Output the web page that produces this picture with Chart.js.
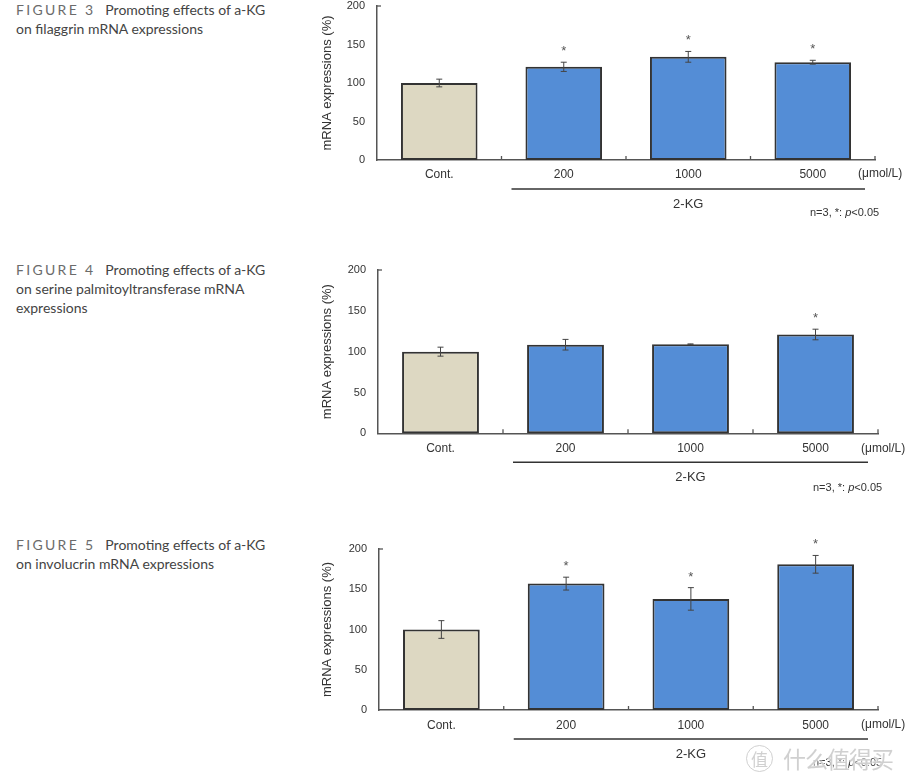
<!DOCTYPE html>
<html lang="en">
<head>
<meta charset="UTF-8">
<title>Promoting effects of a-KG – mRNA expressions</title>
<script src="https://cdn.jsdelivr.net/npm/chart.js"></script>
<style>
body{margin:0;background:#fff;width:913px;height:784px;position:relative;overflow:hidden}
.cap{position:absolute;left:16px;font-family:Lato,'Open Sans',sans-serif;font-size:14px;line-height:19px;color:#444}
.cap .fig{color:#6b6b6b;letter-spacing:2.3px;margin-right:10px}
canvas{position:absolute;left:300px}
.wm{position:absolute;left:746px;top:741px;font-family:'Noto Sans CJK SC',sans-serif;color:rgba(200,200,200,.85);
    text-shadow:0 0 2px #fff,0 0 2px #fff;white-space:nowrap;z-index:5}
.wm .ring{display:inline-block;width:25px;height:25px;border:1.5px solid rgba(200,200,200,.85);border-radius:50%;
          font-size:17px;line-height:25px;text-align:center;vertical-align:middle;margin-right:10px}
.wm .name{font-size:23px;vertical-align:middle;letter-spacing:-1px}
</style>
</head>
<body>
<div class="cap" style="top:0px"><span class="fig">FIGURE 3</span>Promoting effects of a-KG<br>on filaggrin mRNA expressions</div>
<div class="cap" style="top:260px"><span class="fig">FIGURE 4</span>Promoting effects of a-KG<br>on serine palmitoyltransferase mRNA<br>expressions</div>
<div class="cap" style="top:535px"><span class="fig">FIGURE 5</span>Promoting effects of a-KG<br>on involucrin mRNA expressions</div>

<canvas id="fig3" width="613" height="235" style="top:0px"></canvas>
<canvas id="fig4" width="613" height="245" style="top:255px"></canvas>
<canvas id="fig5" width="613" height="254" style="top:530px"></canvas>

<div class="wm"><span class="ring">值</span><span class="name">什么值得买</span></div>

<script>
/* --- data --- */
const categories = ['Cont.', '200', '1000', '5000'];
const barColors = ['#ddd8c2', '#548dd6', '#548dd6', '#548dd6'];

const fig3Values = [100, 121, 134, 127];
const fig3Errors = [5, 6, 7, 2.5];
const fig3Sig    = [false, true, true, true];

const fig4Values = [100, 108.5, 109, 121];
const fig4Errors = [5.5, 6.5, 0.5, 6.5];
const fig4Sig    = [false, false, false, true];

const fig5Values = [100, 157, 138, 181];
const fig5Errors = [11, 8, 14, 11];
const fig5Sig    = [false, true, true, true];

const yMin = 0, yMax = 200, yStep = 50;
const yTitle = 'mRNA expressions (%)';
const unitLabel = '(μmol/L)';
const groupLabel = '2-KG';

Chart.defaults.font.family = "'Liberation Sans', Arial, sans-serif";
Chart.defaults.color = '#333';

/* --- error bars, asterisks, group line, notes --- */
const extras = {
  id: 'extras',
  afterDatasetsDraw(chart, args, o) {
    const {ctx, chartArea: a, scales: {x, y}} = chart;
    const vals = chart.data.datasets[0].data;
    const meta = chart.getDatasetMeta(0);
    ctx.save();
    ctx.strokeStyle = '#444'; ctx.lineWidth = 1;
    vals.forEach((v, i) => {
      const cx = meta.data[i].x;
      const t = y.getPixelForValue(v + o.errors[i]);
      const b = y.getPixelForValue(v - o.errors[i]);
      ctx.beginPath();
      ctx.moveTo(cx, t); ctx.lineTo(cx, b);
      ctx.moveTo(cx - 3, t); ctx.lineTo(cx + 3, t);
      ctx.moveTo(cx - 3, b); ctx.lineTo(cx + 3, b);
      ctx.stroke();
      if (o.sig[i]) {
        ctx.fillStyle = '#555';
        ctx.font = "13px 'Liberation Sans', Arial";
        ctx.textAlign = 'center'; ctx.textBaseline = 'alphabetic';
        ctx.fillText('*', cx, t - 14 + 7);
      }
    });
    // category boundary ticks (inside)
    ctx.strokeStyle = '#555'; ctx.lineWidth = 1.3;
    const n = vals.length;
    for (let i = 0; i < n; i++) {
      const bx = i < n - 1 ? (x.getPixelForValue(i) + x.getPixelForValue(i + 1)) / 2 : a.right;
      ctx.beginPath(); ctx.moveTo(bx, a.bottom); ctx.lineTo(bx, a.bottom - 4); ctx.stroke();
    }
    // top stub on y axis
    ctx.beginPath(); ctx.moveTo(a.left, a.top); ctx.lineTo(a.left + 4, a.top); ctx.stroke();

    // group line + label
    const gx0 = (x.getPixelForValue(0) + x.getPixelForValue(1)) / 2 + 10;
    const gx1 = a.right - 10;
    const gy = a.bottom + 29;
    ctx.strokeStyle = '#333'; ctx.lineWidth = 1.5;
    ctx.beginPath(); ctx.moveTo(gx0, gy); ctx.lineTo(gx1, gy); ctx.stroke();
    ctx.fillStyle = '#333';
    ctx.font = "13px 'Liberation Sans', Arial";
    ctx.textAlign = 'center'; ctx.textBaseline = 'middle';
    ctx.fillText(groupLabel, (gx0 + gx1) / 2, a.bottom + 44);

    // unit label
    ctx.font = "12px 'Liberation Sans', Arial";
    ctx.textAlign = 'left';
    ctx.fillText(unitLabel, a.right - 17, a.bottom + o.labelDy);

    // note n=3, *: p<0.05
    let nx = a.right - 65; const ny = a.bottom + o.noteDy;
    const parts = [['n=3, *: ', ''], ['p', 'italic '], ['<0.05', '']];
    parts.forEach(([s, st]) => {
      ctx.font = st + "11px 'Liberation Sans', Arial";
      ctx.fillText(s, nx, ny);
      nx += ctx.measureText(s).width;
    });
    ctx.restore();
  }
};

function makeChart(id, values, errors, sig, L) {
  return new Chart(document.getElementById(id), {
    type: 'bar',
    data: {
      labels: categories,
      datasets: [{
        data: values,
        backgroundColor: barColors,
        borderColor: '#333',
        borderWidth: 2,
        borderSkipped: false,
        categoryPercentage: 1,
        barPercentage: 0.615
      }]
    },
    options: {
      responsive: false,
      animation: false,
      layout: {padding: {left: 0, top: L.top, right: L.right, bottom: 0}},
      plugins: {
        legend: {display: false},
        tooltip: {enabled: false},
        extras: {errors: errors, sig: sig, labelDy: L.labelDy, noteDy: L.noteDy}
      },
      scales: {
        x: {
          grid: {display: false, drawTicks: false},
          border: {display: true, color: '#555', width: 1.5},
          ticks: {font: {size: 12}, color: '#333', padding: L.xPad},
          afterFit: s => { s.height = L.xHeight; s.paddingLeft = 0; s.paddingRight = 0; }
        },
        y: {
          min: yMin, max: yMax,
          grid: {display: false, drawTicks: false},
          border: {display: true, color: '#555', width: 1.5},
          ticks: {stepSize: yStep, font: {size: 11}, color: '#333', padding: 12},
          title: {display: true, text: yTitle, font: {size: 13}, color: '#333', padding: {top: 20, bottom: 0}},
          afterFit: s => { s.width = L.left; s.paddingTop = 0; s.paddingBottom = 0; }
        }
      }
    },
    plugins: [extras]
  });
}

makeChart('fig3', fig3Values, fig3Errors, fig3Sig,
  {top: 6, right: 38, left: 77, xHeight: 75, xPad: 7, labelDy: 14, noteDy: 53});
makeChart('fig4', fig4Values, fig4Errors, fig4Sig,
  {top: 15, right: 35, left: 78, xHeight: 66.7, xPad: 8, labelDy: 15, noteDy: 55});
makeChart('fig5', fig5Values, fig5Errors, fig5Sig,
  {top: 19, right: 35, left: 79, xHeight: 74, xPad: 8, labelDy: 15, noteDy: 53});
</script>
</body>
</html>
